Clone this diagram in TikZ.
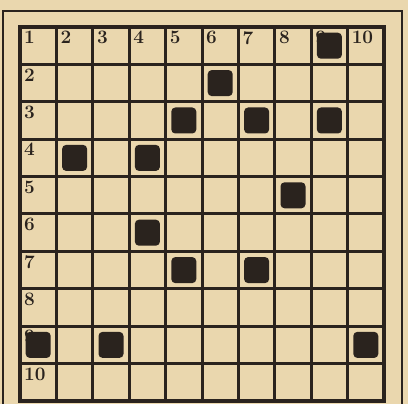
\documentclass[tikz,border=0pt]{standalone}
\usepackage{tikz}
\definecolor{paper}{RGB}{234,215,174}
\definecolor{ink}{RGB}{42,35,30}
\begin{document}
\begin{tikzpicture}[x=1pt,y=-1pt,
  gridline/.style={draw=ink,line width=3pt,line cap=rect},
  frameline/.style={draw=ink,line width=2.6pt},
  blk/.style={fill=ink,rounded corners=4pt,minimum width=25pt,minimum height=26pt,inner sep=0pt,draw=none},
  lbl/.style={text=ink,font=\fontsize{19}{19}\selectfont\bfseries,inner sep=0pt,anchor=north west}]
\useasboundingbox (0,0) rectangle (408,404);
\fill[paper] (0,0) rectangle (408,404);
% outer frame
\draw[frameline] (3,410) -- (3,11) -- (402,11) -- (402,410);
% grid
\foreach \i in {0,...,10}{
  \draw[gridline] ({20+36.4*\i},27) -- ({20+36.4*\i},401);
  \draw[gridline] (20,{27+37.4*\i}) -- (384,{27+37.4*\i});
}
\draw[draw=ink,line width=4pt] (20,27) rectangle (384,401);
% labels
\node[lbl] (t1) at (24,31) {1};
\foreach \i in {2,...,10}{
  \node[lbl] (t\i) at ({20+36.4*(\i-1)+4},31) {\i};
  \node[lbl] (l\i) at (24,{27+37.4*(\i-1)+4}) {\i};
}
% black squares (col,row)
\foreach \c/\r in {9/1,6/2,5/3,7/3,9/3,2/4,4/4,8/5,4/6,5/7,7/7,1/9,3/9,10/9}{
  \node[blk] (b\c-\r) at ({20+36.4*(\c-0.5)},{27+37.4*(\r-0.5)}) {};
}
\end{tikzpicture}
\end{document}
